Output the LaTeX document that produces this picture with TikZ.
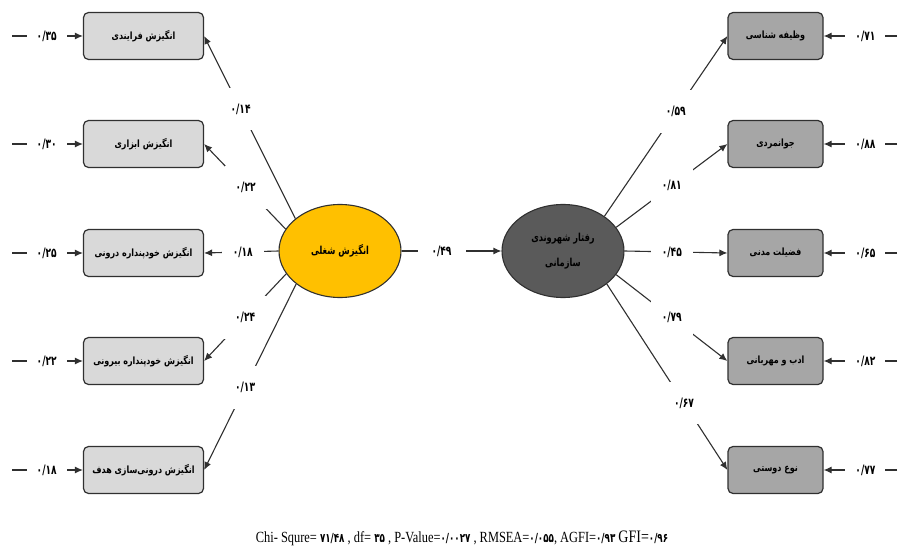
\documentclass[tikz,border=0pt]{standalone}
\usepackage{fontspec}
\setmainfont{Liberation Serif}
\newfontfamily\farsi[Script=Arabic,FakeStretch=0.8]{DejaVu Sans}
\newfontfamily\farsiwide[Script=Arabic,FakeStretch=0.75]{DejaVu Sans}
\newfontfamily\farsinum[FakeStretch=0.7]{DejaVu Sans}
\newfontfamily\chifont[FakeStretch=0.8]{Liberation Serif}
\TeXXeTstate=1
\usepackage{tikz}
\usetikzlibrary{arrows,arrows.meta,shapes,positioning}
\definecolor{motivyellow}{HTML}{FFC000}
\definecolor{boxlight}{HTML}{D9D9D9}
\definecolor{boxdark}{HTML}{A6A6A6}
\definecolor{ocbgray}{HTML}{5A5A5A}
\definecolor{edgegray}{HTML}{303030}
\newcommand{\fa}[1]{{\farsi\bfseries\beginR #1\endR}}
\newcommand{\fb}[1]{{\farsiwide\bfseries\beginR #1\endR}}
\newcommand{\fnum}[1]{{\farsinum\bfseries #1}}
\newcommand{\fd}[1]{{\farsinum\bfseries\fontsize{12.5}{14}\selectfont #1}}

\begin{document}
\begin{tikzpicture}[x=1pt,y=-1pt,
    lbox/.style={draw=edgegray,fill=boxlight,rounded corners=5pt,line width=1.2pt,minimum width=120pt,minimum height=47pt,inner sep=0pt,font=\fontsize{10}{12}\selectfont},
    rbox/.style={lbox,fill=boxdark,minimum width=95pt},
    latent/.style={ellipse,draw=edgegray,line width=1.1pt,minimum width=122pt,minimum height=93pt,inner sep=0pt,font=\fontsize{11}{13}\selectfont},
    coef/.style={fill=white,inner xsep=11pt,inner ysep=16pt,font=\fontsize{13}{15}\selectfont},
    errc/.style={fill=white,inner xsep=10pt,inner ysep=4pt,font=\fontsize{13}{15}\selectfont},
    link/.style={draw=edgegray,line width=1.1pt},
    >={Latex[length=8pt,width=7pt]}]
                \useasboundingbox (0,0) rectangle (898,551);
                \node[lbox] (lb1) at (143.5,36) {\fa{انگیزش فرایندی}};
                \node[lbox] (lb2) at (143.5,144) {\fa{انگیزش ابزاری}};
                \node[lbox] (lb3) at (143.5,253) {\fa{انگیزش خودپنداره درونی}};
                \node[lbox] (lb4) at (143.5,361) {\fa{انگیزش  خودپنداره بیرونی}};
                \node[lbox] (lb5) at (143.5,470) {\fa{انگیزش درونی‌سازی هدف}};
                \node[rbox] (rb1) at (775.5,36) {\fa{وظیفه شناسی}};
                \node[rbox] (rb2) at (775.5,144) {\fa{جوانمردی}};
                \node[rbox] (rb3) at (775.5,253) {\fa{فضیلت مدنی}};
                \node[rbox] (rb4) at (775.5,361) {\fa{ادب و مهربانی}};
                \node[rbox] (rb5) at (775.5,470) {\fa{نوع دوستی}};
                \node[latent,fill=motivyellow] (job) at (340,251) {\fb{انگیزش شغلی}};
                \node[latent,fill=ocbgray,align=center] (ocb) at (563,251) {\fb{رفتار شهروندی}\\[12pt]\fb{سازمانی}};
                \coordinate (le1) at (12,36);
                \coordinate (le2) at (12,144);
                \coordinate (le3) at (12,253);
                \coordinate (le4) at (12,361);
                \coordinate (le5) at (12,470);
                \coordinate (re1) at (897,36);
                \coordinate (re2) at (897,144);
                \coordinate (re3) at (897,253);
                \coordinate (re4) at (897,361);
                \coordinate (re5) at (897,470);
                \draw[link,->] (job.144) -- node[coef,pos=0.6] {\fnum{۰/۱۴}} (lb1.east);
                \draw[link,->] (job.158) -- node[coef,pos=0.49] {\fnum{۰/۲۲}} (lb2.east);
                \draw[link,->] (job.west) -- node[coef,pos=0.48] {\fnum{۰/۱۸}} (lb3.east);
                \draw[link,->] (job.203) -- node[coef,pos=0.5] {\fnum{۰/۲۴}} (lb4.east);
                \draw[link,->] (job.217) -- node[coef,pos=0.555] {\fnum{۰/۱۳}} (lb5.east);
                \draw[link,->] (ocb.40) -- node[coef,pos=0.58] {\fnum{۰/۵۹}} (rb1.west);
                \draw[link,->] (ocb.24) -- node[coef,pos=0.5] {\fnum{۰/۸۱}} (rb2.west);
                \draw[link,->] (ocb.east) -- node[coef,pos=0.46] {\fnum{۰/۴۵}} (rb3.west);
                \draw[link,->] (ocb.-24) -- node[coef,pos=0.5] {\fnum{۰/۷۹}} (rb4.west);
                \draw[link,->] (ocb.-37) -- node[coef,pos=0.64] {\fnum{۰/۶۷}} (rb5.west);
                \draw[link,->] (job.east) -- node[coef,pos=0.4,inner xsep=14pt] {\fnum{۰/۴۹}} (ocb.west);
                \draw[link,->] (le1) -- node[errc,pos=0.49] {\fnum{۰/۳۵}} (lb1.west);
                \draw[link,->] (le2) -- node[errc,pos=0.49] {\fnum{۰/۳۰}} (lb2.west);
                \draw[link,->] (le3) -- node[errc,pos=0.49] {\fnum{۰/۲۵}} (lb3.west);
                \draw[link,->] (le4) -- node[errc,pos=0.49] {\fnum{۰/۲۲}} (lb4.west);
                \draw[link,->] (le5) -- node[errc,pos=0.49] {\fnum{۰/۱۸}} (lb5.west);
                \draw[link,->] (re1) -- node[errc,pos=0.43] {\fnum{۰/۷۱}} (rb1.east);
                \draw[link,->] (re2) -- node[errc,pos=0.43] {\fnum{۰/۸۸}} (rb2.east);
                \draw[link,->] (re3) -- node[errc,pos=0.43] {\fnum{۰/۶۵}} (rb3.east);
                \draw[link,->] (re4) -- node[errc,pos=0.43] {\fnum{۰/۸۲}} (rb4.east);
                \draw[link,->] (re5) -- node[errc,pos=0.43] {\fnum{۰/۷۷}} (rb5.east);
                \node[font=\chifont\fontsize{15.5}{17}\selectfont] (fit) at (462,538) {Chi- Squre= \fd{۷۱/۴۸} , df= \fd{۳۵} , P-Value=\fd{۰/۰۰۲۷} , RMSEA=\fd{۰/۰۵۵}, AGFI=\fd{۰/۹۳} {\fontsize{17.5}{19}\selectfont GFI=\fd{۰/۹۶}}};
            \end{tikzpicture}
\end{document}
